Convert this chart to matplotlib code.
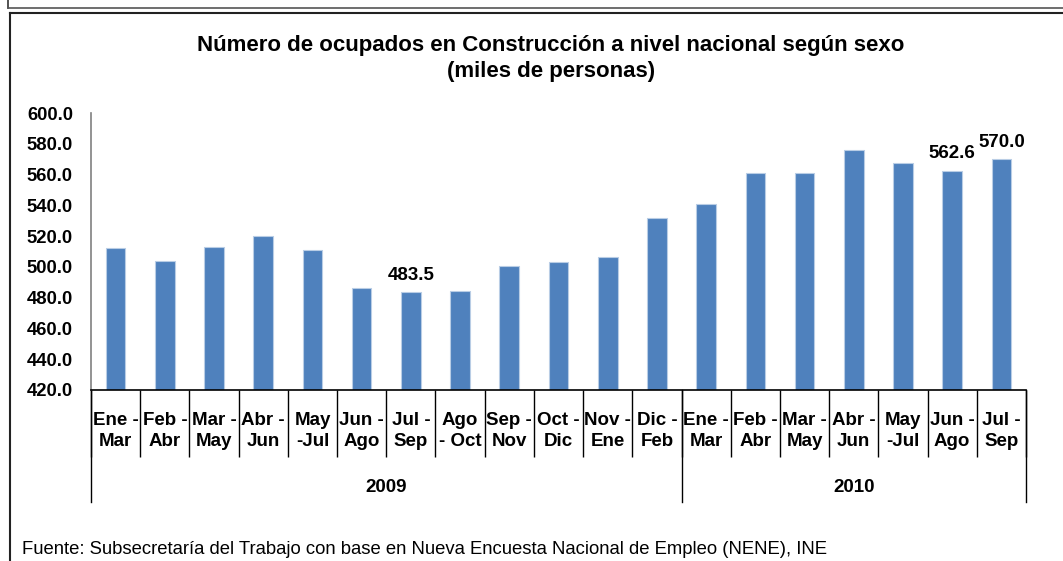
import matplotlib
matplotlib.use('Agg')
import matplotlib.pyplot as plt
import matplotlib.transforms as mtransforms
from matplotlib.lines import Line2D

plt.rcParams['font.family'] = ['Liberation Sans', 'DejaVu Sans']

# data (miles de personas)
periodos = ['Ene -\nMar', 'Feb -\nAbr', 'Mar -\nMay', 'Abr -\nJun', 'May\n-Jul',
            'Jun -\nAgo', 'Jul -\nSep', 'Ago\n- Oct', 'Sep -\nNov', 'Oct -\nDic',
            'Nov -\nEne', 'Dic -\nFeb',
            'Ene -\nMar', 'Feb -\nAbr', 'Mar -\nMay', 'Abr -\nJun', 'May\n-Jul',
            'Jun -\nAgo', 'Jul -\nSep']
ocupados = [512.1, 504.1, 513.0, 519.9, 511.2, 486.2, 483.5, 484.4, 500.5, 503.5,
            506.5, 531.6, 541.1, 560.8, 560.8, 575.8, 567.3, 562.6, 570.0]
anios = ['2009', '2010']
n_por_anio = [12, 7]
etiquetados = [6, 17, 18]  # barras con valor escrito

W, H = 1063, 561
fig = plt.figure(figsize=(W / 100, H / 100), dpi=100)
ax = fig.add_axes([91 / W, 1 - 390 / H, (1026 - 91) / W, (390 - 113) / H])

x = list(range(len(ocupados)))
ax.bar(x, ocupados, width=0.4, color='#4F81BD', edgecolor='#B9CDE5', linewidth=0.8)
ax.set_ylim(420, 600)
ax.set_xlim(-0.5, len(ocupados) - 0.5)
ax.set_yticks(range(420, 601, 20))
ax.set_yticklabels([f'{v:.1f}' for v in range(420, 601, 20)])

for i in etiquetados:
    ax.annotate(f'{ocupados[i]:.1f}', (i, ocupados[i]), xytext=(0, 6),
                textcoords='offset points', ha='center', va='bottom',
                fontsize=13.5, fontweight='bold')

for s in ['top', 'right']:
    ax.spines[s].set_visible(False)
ax.spines['left'].set_color('#808080')
ax.spines['left'].set_linewidth(1.2)
ax.spines['bottom'].set_color('black')
ax.spines['bottom'].set_linewidth(1.2)

ax.tick_params(axis='y', length=0, pad=13, labelsize=13.3)
for t in ax.get_yticklabels():
    t.set_fontweight('bold')

# separadores de periodo como ticks mayores, etiquetas en menores
ax.set_xticks([i - 0.5 for i in range(len(ocupados) + 1)])
ax.set_xticklabels([])
ax.tick_params(axis='x', which='major', length=48, width=1.0, color='black')
ax.set_xticks(x, minor=True)
ax.set_xticklabels(periodos, minor=True, fontsize=13.5, fontweight='bold',
                   multialignment='center', linespacing=1.3)
ax.tick_params(axis='x', which='minor', length=0, pad=16)

# separadores y etiquetas de año
trans = mtransforms.blended_transform_factory(ax.transData, ax.transAxes)
ybot = -(502 - 390) / (390 - 113)
ytxt = -(487 - 390) / (390 - 113)
inicio = -0.5
bordes = [inicio]
for anio, n in zip(anios, n_por_anio):
    fin = inicio + n
    bordes.append(fin)
    ax.text((inicio + fin) / 2, ytxt, anio, transform=trans, ha='center', va='center',
            fontsize=13.5, fontweight='bold')
    inicio = fin
for b in bordes:
    ax.add_line(Line2D([b, b], [0, ybot], transform=trans, color='black',
                       linewidth=1.0, clip_on=False))

fig.text(551 / W, 1 - 45 / H, 'Número de ocupados en Construcción a nivel nacional según sexo',
         ha='center', va='center', fontsize=16, fontweight='bold')
fig.text(551 / W, 1 - 71 / H, '(miles de personas)',
         ha='center', va='center', fontsize=16, fontweight='bold')
fig.text(22 / W, 1 - 549 / H,
         'Fuente: Subsecretaría del Trabajo con base en Nueva Encuesta Nacional de Empleo (NENE), INE',
         ha='left', va='center', fontsize=13.3)

# marcos
fig.add_artist(Line2D([7.5 / W, 7.5 / W], [1, 1 - 8 / H], color='#333333', linewidth=1.2))
fig.add_artist(Line2D([7.5 / W, 1], [1 - 8 / H, 1 - 8 / H], color='#555555', linewidth=1.2))
fig.add_artist(Line2D([9.5 / W, 1], [1 - 13 / H, 1 - 13 / H], color='#222222', linewidth=1.5))
fig.add_artist(Line2D([9.5 / W, 9.5 / W], [1 - 13 / H, 0], color='#222222', linewidth=1.5))

fig.savefig('out.png', dpi=100)
